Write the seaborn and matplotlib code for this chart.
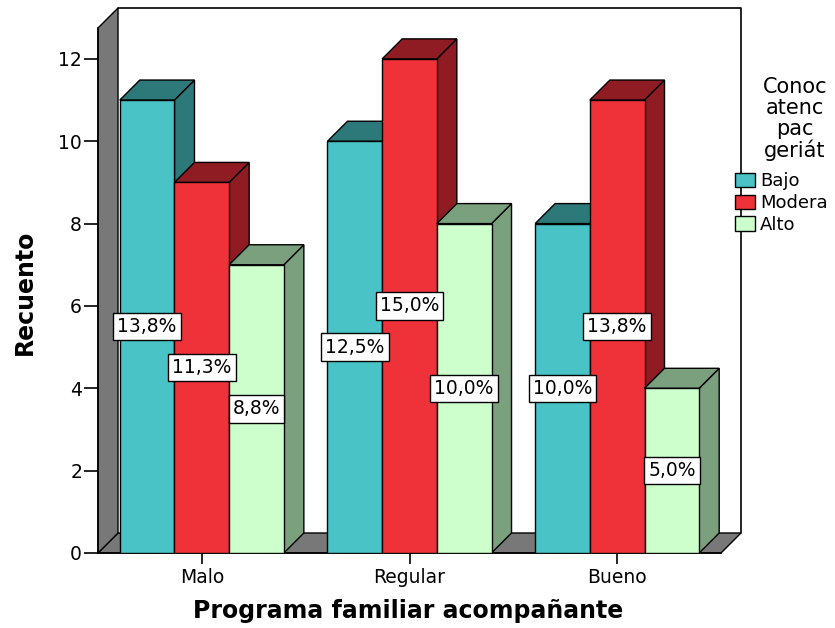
import matplotlib
matplotlib.use("Agg")
from matplotlib import pyplot as plt
from matplotlib.patches import Polygon, Patch
import pandas as pd
import seaborn as sns

# data
programa = ["Malo", "Regular", "Bueno"]
conoc = ["Bajo", "Moderado", "Alto"]
legend_labels = ["Bajo", "Modera", "Alto"]  # as printed in the (truncated) legend
recuento_bajo = [11, 10, 8]
recuento_moderado = [9, 12, 11]
recuento_alto = [7, 8, 4]
pct_bajo = ["13,8%", "12,5%", "10,0%"]
pct_moderado = ["11,3%", "15,0%", "13,8%"]
pct_alto = ["8,8%", "10,0%", "5,0%"]

front_colors = {"Bajo": "#4AC3C7", "Moderado": "#EF323A", "Alto": "#CCFFCC"}
dark_colors = {"Bajo": "#2D7878", "Moderado": "#8E1C22", "Alto": "#7AA07D"}
wall_gray = "#787878"

rows = []
for serie, vals, pcts in [("Bajo", recuento_bajo, pct_bajo),
                          ("Moderado", recuento_moderado, pct_moderado),
                          ("Alto", recuento_alto, pct_alto)]:
    for p, v, t in zip(programa, vals, pcts):
        rows.append({"programa": p, "conoc": serie, "recuento": v, "pct": t})
df = pd.DataFrame(rows)

sns.set_style("ticks", {"text.color": "black", "axes.labelcolor": "black",
                        "xtick.color": "black", "ytick.color": "black",
                        "axes.edgecolor": "black"})
plt.rcParams["font.family"] = ["DejaVu Sans"]

W, H = 835, 628
fig = plt.figure(figsize=(W / 100, H / 100), dpi=100)
# axes box = front plane of the 3d frame (pixels: x 98..721, y 28..553)
ax = fig.add_axes([98 / W, (H - 553) / H, 623 / W, 525 / H])

xmin, xmax, ymin, ymax = -0.5, 2.5, 0, 12.75
sns.barplot(data=df, x="programa", y="recuento", hue="conoc", order=programa,
            hue_order=conoc, palette=front_colors, width=0.79, saturation=1,
            edgecolor="black", linewidth=1, legend=False, ax=ax)
ax.set_xlim(xmin, xmax)
ax.set_ylim(ymin, ymax)
bars = sorted([p for p in ax.patches if p.get_height() > 0], key=lambda p: p.get_x())

# depth offset, 20 px right and 20 px up, in data units
ddx = 20 / (623 / (xmax - xmin))
ddy = 20 / (525 / (ymax - ymin))

# floor, left wall and back wall outline
ax.add_patch(Polygon([(xmin, 0), (xmax, 0), (xmax + ddx, ddy), (xmin + ddx, ddy)],
                     closed=True, fc=wall_gray, ec="black", lw=1, zorder=0.5, clip_on=False))
ax.add_patch(Polygon([(xmin, 0), (xmin + ddx, ddy), (xmin + ddx, ymax + ddy), (xmin, ymax)],
                     closed=True, fc=wall_gray, ec="black", lw=1, zorder=0.6, clip_on=False))
ax.plot([xmin + ddx, xmax + ddx, xmax + ddx], [ymax + ddy, ymax + ddy, ddy],
        color="black", lw=1.2, zorder=0.4, clip_on=False)

# 3d side + top for every bar, drawn left to right
flat = df.set_index(["programa", "conoc"])
order = [(p, c) for p in programa for c in conoc]
for i, (bar, key) in enumerate(zip(bars, order)):
    x0 = bar.get_x()
    x1 = x0 + bar.get_width()
    h = bar.get_height()
    dark = dark_colors[key[1]]
    z = 3 + 2 * i
    bar.set_zorder(z + 1)
    ax.add_patch(Polygon([(x1, 0), (x1 + ddx, ddy), (x1 + ddx, h + ddy), (x1, h)],
                         closed=True, fc=dark, ec="black", lw=1, zorder=z))
    ax.add_patch(Polygon([(x0, h), (x1, h), (x1 + ddx, h + ddy), (x0 + ddx, h + ddy)],
                         closed=True, fc=dark, ec="black", lw=1, zorder=z))
    ax.text((x0 + x1) / 2, h / 2, flat.loc[key, "pct"], ha="center", va="center",
            fontsize=13.5, color="black", zorder=100,
            bbox=dict(boxstyle="square,pad=0.22", fc="white", ec="black", lw=1))

sns.despine(ax=ax, top=True, right=True)
ax.spines["left"].set_linewidth(1.2)
ax.spines["bottom"].set_linewidth(1.2)
ax.set_yticks([0, 2, 4, 6, 8, 10, 12])
ax.tick_params(axis="y", length=10, width=1.2, pad=1.5, labelsize=13.5)
ax.tick_params(axis="x", length=8, width=1.2, pad=3, labelsize=13.5)

ax.set_xlabel("Programa familiar acompañante", fontsize=17, fontweight="bold")
ax.set_ylabel("Recuento", fontsize=17, fontweight="bold")
ax.xaxis.set_label_coords(0.497, (553 - 611) / 525)
ax.xaxis.label.set_va("center")
ax.yaxis.set_label_coords((25 - 98) / 623, 0.497)
ax.yaxis.label.set_va("center")

# legend
fig.text(795 / W, 1 - 119 / H, "Conoc\natenc\npac\ngeriát", ha="center", va="center",
         fontsize=15, linespacing=1.05)
handles = [Patch(facecolor=front_colors[c], edgecolor="black", lw=1) for c in conoc]
fig.legend(handles, legend_labels, loc="upper left", bbox_to_anchor=(735 / W, 1 - 172 / H),
           frameon=False, fontsize=13, borderpad=0, borderaxespad=0,
           handlelength=1.1, handleheight=0.85, handletextpad=0.3, labelspacing=0.22)

fig.savefig("out.png", dpi=100)
